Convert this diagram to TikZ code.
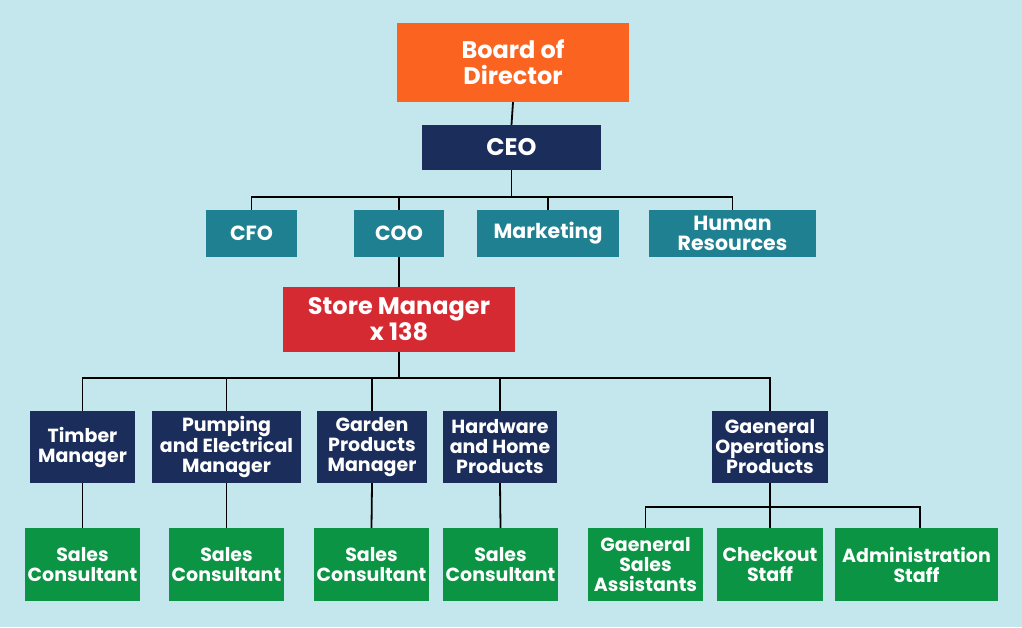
\documentclass[tikz,border=0pt]{standalone}
\usepackage{fontspec}
\setmainfont{Poppins}
\definecolor{bgc}{HTML}{C4E7EE}
\definecolor{orangec}{HTML}{FA6420}
\definecolor{navyc}{HTML}{1B2D5A}
\definecolor{tealc}{HTML}{1F8091}
\definecolor{redc}{HTML}{D52A32}
\definecolor{greenc}{HTML}{0A9444}
\begin{document}
\begin{tikzpicture}[x=1pt,y=-1pt,
  box/.style={rectangle, inner sep=0pt, text=white, align=center, font=\bfseries\fontsize{19}{20}\selectfont},
  mid/.style={box, font=\bfseries\fontsize{20.5}{20}\selectfont},
  big/.style={box, font=\bfseries\fontsize{24}{26}\selectfont},
  conn/.style={draw=black, line width=1.8pt}]
\fill[bgc] (0,0) rectangle (1022,627);
\useasboundingbox (0,0) rectangle (1022,627);
% top
\node[big, fill=orangec, minimum width=232pt, minimum height=79pt] (board) at (513,62.5) {Board of\\Director};
\node[big, fill=navyc, minimum width=179pt, minimum height=45pt] (ceo) at (511.5,147.5) {CEO};
% level 2
\node[mid, fill=tealc, minimum width=91pt, minimum height=47pt] (cfo) at (251.5,233.5) {CFO};
\node[mid, fill=tealc, minimum width=90pt, minimum height=47pt] (coo) at (399,233.5) {COO};
\node[mid, fill=tealc, minimum width=142pt, minimum height=47pt] (mkt) at (548,233.5) {Marketing};
\node[mid, fill=tealc, minimum width=167pt, minimum height=47pt] (hr) at (732.5,233.5) {Human\\Resources};
% store
\node[big, fill=redc, minimum width=232pt, minimum height=65pt] (store) at (399,319.5) {Store Manager\\x 138};
% managers
\node[box, fill=navyc, minimum width=105pt, minimum height=72pt] (timber) at (82.5,447) {Timber\\Manager};
\node[box, fill=navyc, minimum width=149pt, minimum height=72pt] (pump) at (226.5,447) {Pumping\\and Electrical\\Manager};
\node[box, fill=navyc, minimum width=110pt, minimum height=72pt] (garden) at (372,447) {Garden\\Products\\Manager};
\node[box, fill=navyc, minimum width=114pt, minimum height=72pt] (hard) at (500,447) {Hardware\\and Home\\Products};
\node[box, fill=navyc, minimum width=116pt, minimum height=72pt] (gop) at (770,447) {Gaeneral\\Operations\\Products};
% staff
\node[box, fill=greenc, minimum width=115pt, minimum height=73pt] (sc1) at (82.5,564.5) {Sales\\Consultant};
\node[box, fill=greenc, minimum width=115pt, minimum height=73pt] (sc2) at (226.5,564.5) {Sales\\Consultant};
\node[box, fill=greenc, minimum width=115pt, minimum height=73pt] (sc3) at (371.5,564.5) {Sales\\Consultant};
\node[box, fill=greenc, minimum width=115pt, minimum height=73pt] (sc4) at (500.5,564.5) {Sales\\Consultant};
\node[box, fill=greenc, minimum width=115pt, minimum height=73pt] (gsa) at (645.5,564.5) {Gaeneral\\Sales\\Assistants};
\node[box, fill=greenc, minimum width=106pt, minimum height=73pt] (chk) at (770,564.5) {Checkout\\Staff};
\node[box, fill=greenc, minimum width=163pt, minimum height=73pt] (adm) at (916.5,564.5) {Administration\\Staff};
% connectors
\coordinate (b1) at (0,197);
\coordinate (b2) at (0,378);
\coordinate (b3) at (0,507);
\draw[conn] (board.south) -- (ceo.north);
\draw[conn] (ceo.south) -- (ceo.south |- b1);
\draw[conn] (cfo.north) -- (cfo.north |- b1) -- (hr.north |- b1) -- (hr.north);
\draw[conn] (coo.north) -- (coo.north |- b1);
\draw[conn] (mkt.north) -- (mkt.north |- b1);
\draw[conn] (coo.south) -- (store.north);
\draw[conn] (store.south) -- (store.south |- b2);
\draw[conn] (timber.north) -- (timber.north |- b2) -- (gop.north |- b2) -- (gop.north);
\draw[conn] (pump.north) -- (pump.north |- b2);
\draw[conn] (garden.north) -- (garden.north |- b2);
\draw[conn] (hard.north) -- (hard.north |- b2);
\draw[conn] (timber.south) -- (sc1.north);
\draw[conn] (pump.south) -- (sc2.north);
\draw[conn] (garden.south) -- (sc3.north);
\draw[conn] (hard.south) -- (sc4.north);
\draw[conn] (gop.south) -- (chk.north);
\draw[conn] (gsa.north) -- (gsa.north |- b3) -- ([xshift=3.5pt]adm.north |- b3) -- ([xshift=3.5pt]adm.north);
\end{tikzpicture}
\end{document}
